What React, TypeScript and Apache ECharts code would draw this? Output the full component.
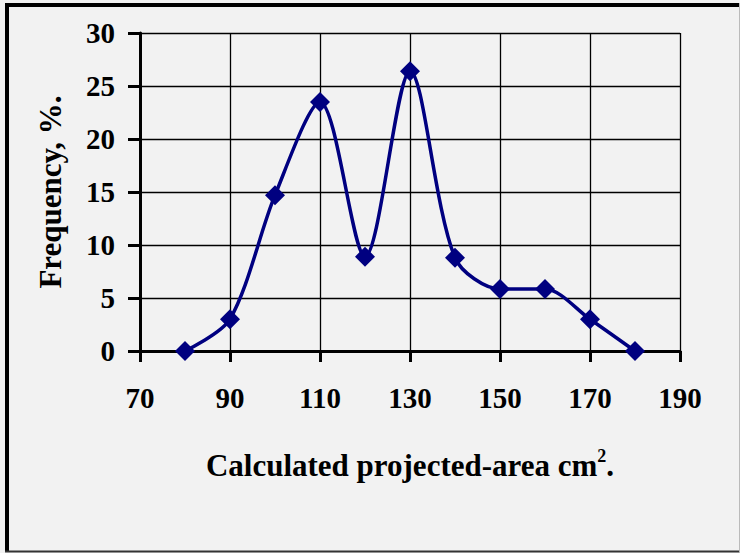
import React, { useEffect, useRef } from "react";
import * as echarts from "echarts";

const areas = [80, 90, 100, 110, 120, 130, 140, 150, 160, 170, 180];
const frequency = [0, 3.0, 14.7, 23.5, 8.9, 26.4, 8.8, 5.85, 5.85, 3.0, 0];
const xTicks = [70, 90, 110, 130, 150, 170, 190];
const yTicks = [0, 5, 10, 15, 20, 25, 30];

export default function App() {
  const ref = useRef<HTMLDivElement>(null);
  useEffect(() => {
    if (!ref.current) return;
    const chart = echarts.init(ref.current, null, { renderer: "svg" });
    const font = "'Liberation Serif', 'Times New Roman', serif";
    chart.setOption({
      animation: false,
      backgroundColor: "#f2f2f2",
      grid: { left: 140, right: 60, top: 33, bottom: 202 },
      xAxis: {
        type: "value",
        min: xTicks[0],
        max: xTicks[xTicks.length - 1],
        interval: 20,
        name: "Calculated projected-area cm{sup|2}.",
        nameLocation: "middle",
        nameGap: 96,
        nameTextStyle: {
          fontFamily: font,
          fontWeight: "bold",
          fontSize: 31,
          color: "#000",
          rich: {
            sup: { fontFamily: font, fontWeight: "bold", fontSize: 18, color: "#000", padding: [0, 0, 18, 0] },
          },
        },
        axisLine: { show: true, onZero: false, lineStyle: { color: "#000", width: 3 } },
        axisTick: { show: true, inside: false, length: 11, lineStyle: { color: "#000", width: 3 } },
        axisLabel: { margin: 32, fontFamily: font, fontWeight: "bold", fontSize: 29, color: "#000" },
        splitLine: { show: true, lineStyle: { color: "#000", width: 1.3 } },
      },
      yAxis: {
        type: "value",
        min: yTicks[0],
        max: yTicks[yTicks.length - 1],
        interval: 5,
        name: "Frequency, %.",
        nameLocation: "middle",
        nameGap: 74,
        nameRotate: 90,
        nameTextStyle: { fontFamily: font, fontWeight: "bold", fontSize: 31, color: "#000" },
        axisLine: { show: true, lineStyle: { color: "#000", width: 3 } },
        axisTick: { show: true, inside: false, length: 12, lineStyle: { color: "#000", width: 3 } },
        axisLabel: { margin: 25, fontFamily: font, fontWeight: "bold", fontSize: 29, color: "#000" },
        splitLine: { show: true, lineStyle: { color: "#000", width: 1.3 } },
      },
      series: [
        {
          type: "line",
          data: areas.map((a, i) => [a, frequency[i]]),
          smooth: 0.3,
          symbol: "diamond",
          symbolSize: 20,
          itemStyle: { color: "#000080" },
          lineStyle: { color: "#000080", width: 3.5 },
        },
      ],
      graphic: [
        { type: "line", shape: { x1: 7, y1: 5, x2: 740, y2: 5 }, style: { stroke: "#000", lineWidth: 4 } },
        { type: "line", shape: { x1: 7, y1: 3, x2: 7, y2: 552 }, style: { stroke: "#000", lineWidth: 4 } },
        { type: "line", shape: { x1: 5, y1: 551.5, x2: 740, y2: 551.5 }, style: { stroke: "#333", lineWidth: 2 } },
        { type: "line", shape: { x1: 739.5, y1: 3, x2: 739.5, y2: 553 }, style: { stroke: "#bbb", lineWidth: 1 } },
      ],
    });
    return () => chart.dispose();
  }, []);
  return (
    <div
      ref={ref}
      style={{ position: "fixed", left: 0, top: 0, width: 740, height: 553 }}
    />
  );
}
